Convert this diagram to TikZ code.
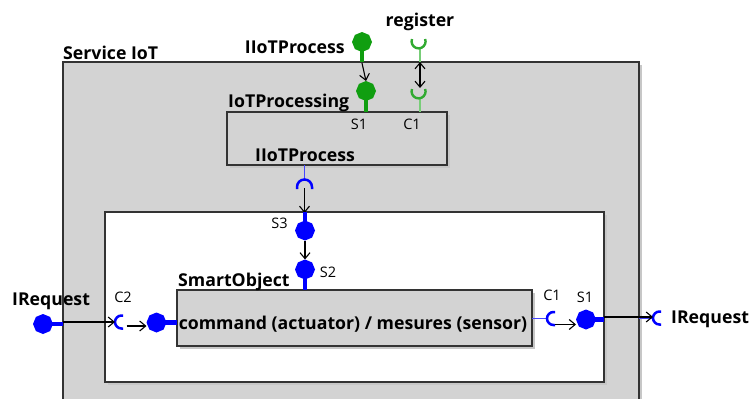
\documentclass[tikz,border=0pt]{standalone}
\usepackage{fontspec}
\setmainfont{Open Sans}
\usetikzlibrary{shapes.geometric,arrows.meta,shadows}
\definecolor{boxgray}{RGB}{211,211,211}
\definecolor{pgreen}{RGB}{16,158,16}
\definecolor{sgreen}{RGB}{50,170,50}
\definecolor{lgreen}{RGB}{120,205,120}
\definecolor{pblue}{RGB}{0,0,255}
\definecolor{lblue}{RGB}{70,70,255}
\begin{document}
\begin{tikzpicture}[x=1pt,y=-1pt,
  comp/.style={draw=black!80, line width=1.6pt, fill=boxgray, outer sep=0pt, inner sep=0pt,
    drop shadow={shadow xshift=2.5pt,shadow yshift=-2.5pt,fill=black!22,opacity=1}},
  whitebox/.style={comp, fill=white},
  port/.style={regular polygon, regular polygon sides=8, shape border rotate=22.5,
    minimum size=20pt, inner sep=0pt, outer sep=0pt, draw=none},
  gport/.style={port, fill=pgreen},
  bport/.style={port, fill=pblue},
  gstem/.style={draw=pgreen, line width=4.5pt},
  bstem/.style={draw=pblue, line width=4.5pt},
  gwire/.style={draw=lgreen, line width=1.4pt},
  bwire/.style={draw=lblue, line width=1.4pt},
  gsock/.style={draw=sgreen, line width=2.4pt},
  bsock/.style={draw=pblue, line width=2.5pt},
  arr/.style={draw=black, line width=1.1pt, -{Straight Barb[length=6pt,width=10pt]}},
  darr/.style={draw=black, line width=1.1pt, {Straight Barb[length=6pt,width=10pt]}-{Straight Barb[length=6pt,width=10pt]}},
  lab/.style={font=\bfseries\fontsize{17.7}{19}\selectfont, inner sep=0pt},
  small/.style={font=\fontsize{14.5}{16}\selectfont, inner sep=0pt}
]
\useasboundingbox (0,0) rectangle (750,399);

% boxes
\node[comp, anchor=north west, minimum width=576pt, minimum height=380pt] (svc) at (63,62) {};
\node[whitebox, anchor=north west, minimum width=499pt, minimum height=170pt] (wb) at (105,212) {};
\node[comp, anchor=north west, minimum width=220pt, minimum height=53pt] (iot) at (227,112) {};
\node[comp, anchor=north west, minimum width=355pt, minimum height=56pt] (so) at (177,290) {};

% labels
\node[lab, anchor=base west] (lsvc) at (63,59) {Service IoT};
\node[lab, anchor=base east] (lproc) at (345,53) {IIoTProcess};
\node[lab, anchor=base] (lreg) at (420,26) {register};
\node[lab, anchor=base west] (liot) at (228,107) {IoTProcessing};
\node[lab, anchor=base west] (lproc2) at (255,161) {IIoTProcess};
\node[lab, anchor=base west] (lso) at (178,286) {SmartObject};
\node[lab, anchor=base] (lcmd) at (353,329) {command (actuator) / mesures (sensor)};
\node[lab, anchor=base west] (lreq1) at (12,305) {IRequest};
\node[lab, anchor=base west] (lreq2) at (671,323) {IRequest};
\node[small] (ls1a) at (359,124) {S1};
\node[small] (lc1a) at (412,124) {C1};
\node[small] (ls3) at (279.5,223) {S3};
\node[small] (ls2) at (328,272) {S2};
\node[small] (lc2) at (123,297) {C2};
\node[small] (lc1b) at (552,295.5) {C1};
\node[small] (ls1b) at (585,297) {S1};

% green ports
\node[gport] (gp1) at (362,42) {};
\node[gport] (gp2) at (366,91) {};
\draw[gstem] (gp1.center) -- (gp1 |- svc.north);
\draw[gstem] (gp2.center) -- (gp2 |- iot.north);
\draw[arr] ([yshift=-1pt]gp1 |- svc.north) -- (gp2.north);

% register sockets
\coordinate (reg1) at (420,41);
\coordinate (reg2) at (420,91);
\draw[gwire] ([yshift=-7pt]reg1) -- (reg1 |- svc.north);
\draw[gwire] ([yshift=-7pt]reg2) -- (reg2 |- iot.north);
\draw[gsock] ([xshift=-8pt,yshift=2pt]reg1) arc[start angle=160,end angle=380,radius=7pt];
\draw[gsock] ([xshift=-8pt,yshift=2pt]reg2) arc[start angle=160,end angle=380,radius=7pt];
\draw[darr] (reg1 |- svc.north) -- ([yshift=3pt]reg2);

% blue socket under IoTProcessing
\coordinate (sk3) at (304.5,187);
\draw[bwire] (sk3 |- iot.south) -- ([yshift=7.5pt]sk3);
\draw[bsock] ([xshift=-7.5pt,yshift=-2pt]sk3) -- ([xshift=-7.5pt]sk3) arc[start angle=180,end angle=0,radius=7.5pt] -- ++(0,-2pt);
\draw[arr] ([yshift=-1pt]sk3) -- ([yshift=-1pt]sk3 |- wb.north);

% S3, S2
\node[bport] (s3) at (305,230.5) {};
\node[bport] (s2) at (305,269.5) {};
\draw[bstem] (s3.center) -- (s3 |- wb.north);
\draw[bstem] (s2.center) -- (s2 |- so.north);
\draw[arr] (s3.south) -- (s2.north);

% left side
\node[bport] (pl) at (43,324) {};
\draw[bstem] (pl.center) -- (pl -| svc.west);
\coordinate (sk2) at (121.5,322);
\draw[bwire] (sk2 -| wb.west) -- ([xshift=-6.5pt]sk2);
\draw[bsock] ([xshift=1.5pt,yshift=6.5pt]sk2) -- ([yshift=6.5pt]sk2) arc[start angle=90,end angle=270,radius=6.5pt] -- ++(1.5pt,0);
\draw[arr] (sk2 -| svc.west) -- ([xshift=-6.5pt]sk2);
\node[bport] (pc2) at (156.5,322.5) {};
\draw[bstem] (pc2.center) -- (pc2 -| so.west);
\draw[arr] ([xshift=5pt,yshift=-4pt]sk2) -- ([yshift=-3.5pt]pc2.west);

% right side
\coordinate (sk1) at (553.5,318.5);
\draw[bwire] (sk1 -| so.east) -- ([xshift=-6.5pt]sk1);
\draw[bsock] ([xshift=1.5pt,yshift=6.5pt]sk1) -- ([yshift=6.5pt]sk1) arc[start angle=90,end angle=270,radius=6.5pt] -- ++(1.5pt,0);
\node[bport] (ps1) at (586,319.5) {};
\draw[bstem] (ps1.center) -- (ps1 -| wb.east);
\draw[arr] ([xshift=1pt,yshift=-6pt]sk1) -- ([yshift=-5pt]ps1.west);
\coordinate (skr) at (659.5,318);
\draw[bwire] (skr -| svc.east) -- ([xshift=-6.5pt]skr);
\draw[bsock] ([xshift=1.5pt,yshift=6.5pt]skr) -- ([yshift=6.5pt]skr) arc[start angle=90,end angle=270,radius=6.5pt] -- ++(1.5pt,0);
\draw[arr] ([yshift=1pt]skr -| wb.east) -- ([xshift=-6.5pt,yshift=1pt]skr);
\end{tikzpicture}
\end{document}
